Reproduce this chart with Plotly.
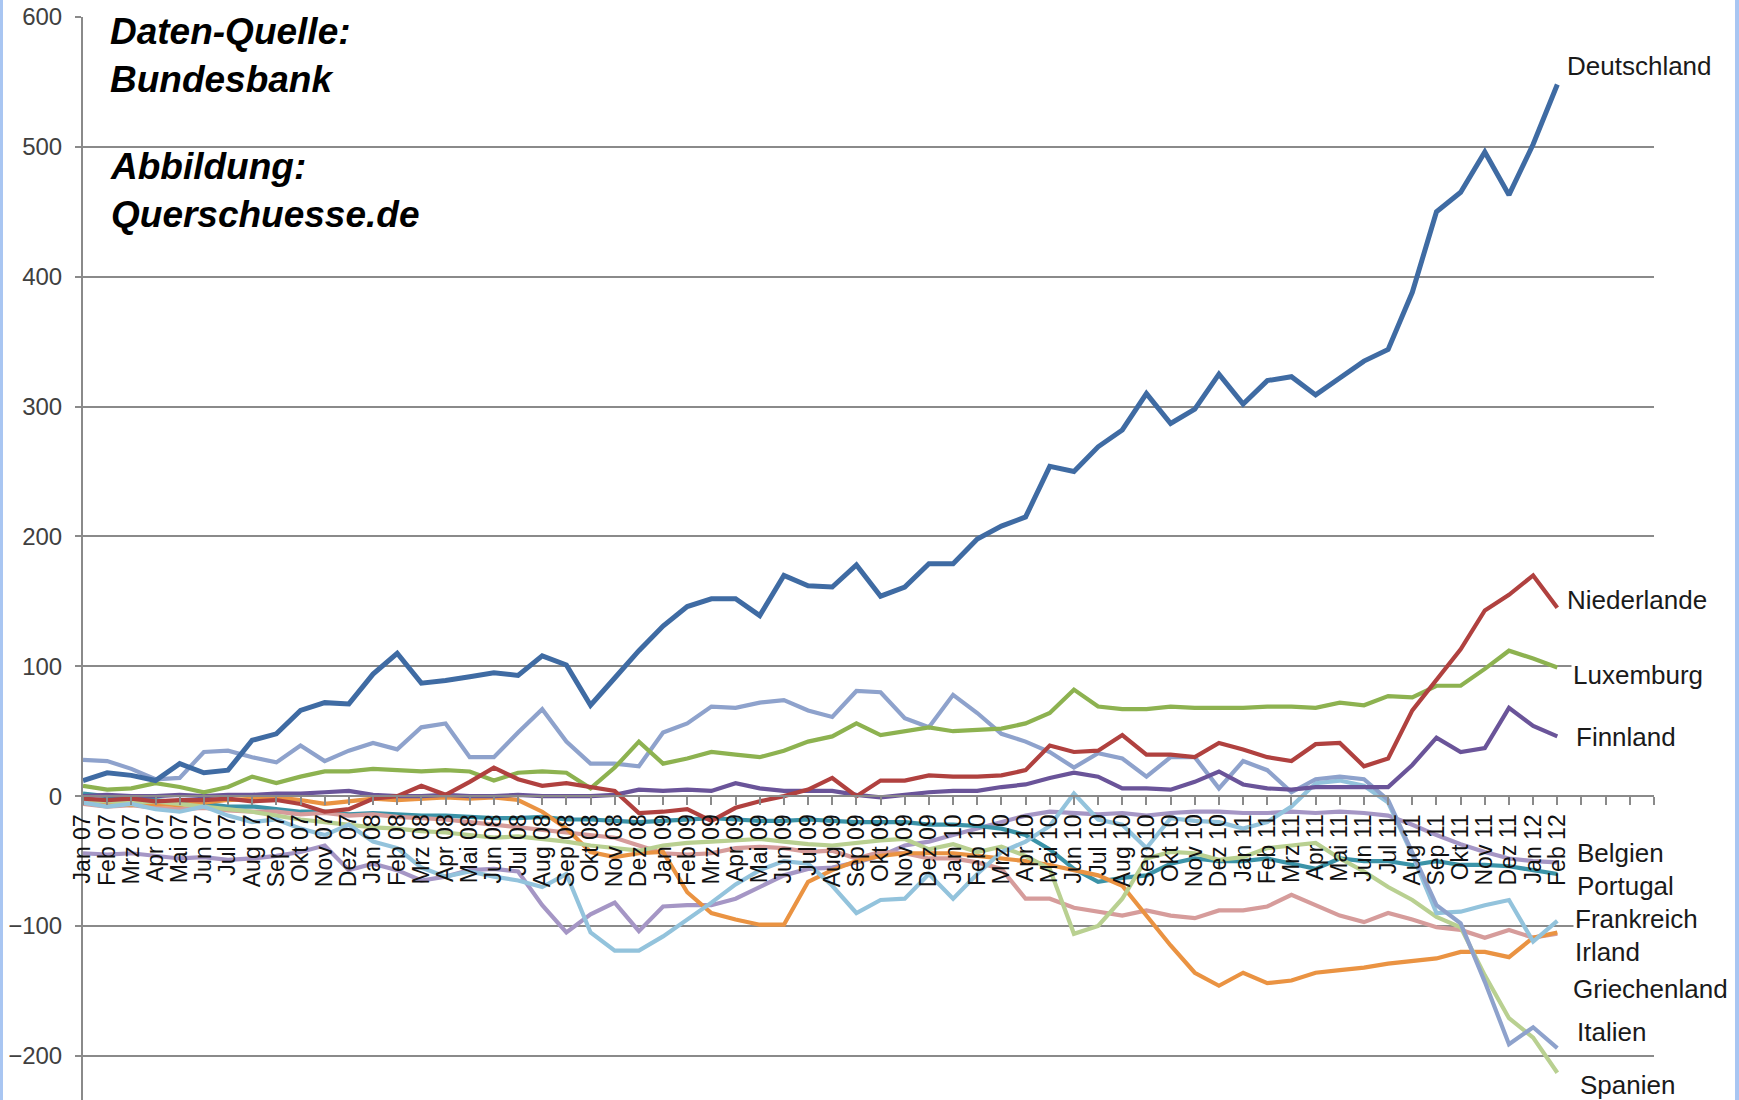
import plotly.graph_objects as go

# ---------------- data ----------------
month_names = ["Jan", "Feb", "Mrz", "Apr", "Mai", "Jun", "Jul", "Aug", "Sep", "Okt", "Nov", "Dez"]
years = ["07", "08", "09", "10", "11", "12"]
months = [f"{m} {y}" for y in years for m in month_names][:62]  # Jan 07 .. Feb 12
extra_slots = 4  # empty category slots after Feb 12 on the axis

deutschland = [12, 18, 16, 12, 25, 18, 20, 43, 48, 66, 72, 71,
               94, 110, 87, 89, 92, 95, 93, 108, 101, 70, 91, 112,
               131, 146, 152, 152, 139, 170, 162, 161, 178, 154, 161, 179,
               179, 198, 208, 215, 254, 250, 269, 282, 310, 287, 298, 325,
               302, 320, 323, 309, 322, 335, 344, 388, 450, 465, 496, 463,
               502, 548]
niederlande = [-2, -3, -2, -4, -3, -3, -2, -4, -3, -6, -12, -10,
               -2, 0, 8, 1, 11, 22, 13, 8, 10, 7, 4, -13,
               -12, -10, -19, -9, -4, 0, 5, 14, 0, 12, 12, 16,
               15, 15, 16, 20, 39, 34, 35, 47, 32, 32, 30, 41,
               36, 30, 27, 40, 41, 23, 29, 66, 90, 113, 143, 155,
               170, 145]
luxemburg = [8, 5, 6, 10, 7, 3, 7, 15, 10, 15, 19, 19,
             21, 20, 19, 20, 19, 12, 18, 19, 18, 6, 22, 42,
             25, 29, 34, 32, 30, 35, 42, 46, 56, 47, 50, 53,
             50, 51, 52, 56, 64, 82, 69, 67, 67, 69, 68, 68,
             68, 69, 69, 68, 72, 70, 77, 76, 85, 85, 98, 112,
             106, 99]
finnland = [0, 1, 0, 0, 1, 0, 1, 1, 2, 2, 3, 4,
            1, 0, 0, 1, 0, 0, 1, 0, 0, 0, 1, 5,
            4, 5, 4, 10, 6, 4, 4, 4, 1, -1, 1, 3,
            4, 4, 7, 9, 14, 18, 15, 6, 6, 5, 11, 19,
            9, 6, 5, 7, 7, 7, 7, 24, 45, 34, 37, 68,
            54, 46]
belgien = [-44, -45, -44, -46, -48, -47, -49, -48, -46, -43, -38, -57,
           -52, -57, -65, -62, -57, -56, -58, -84, -105, -91, -82, -104,
           -85, -84, -84, -79, -70, -61, -56, -55, -51, -46, -38, -35,
           -30, -25, -20, -15, -12, -13, -14, -13, -15, -13, -12, -12,
           -13, -13, -12, -13, -12, -13, -15, -22, -30, -37, -43, -48,
           -50, -51]
portugal = [2, 0, -2, -3, -5, -6, -8, -8, -10, -12, -12, -14,
            -13, -14, -15, -15, -16, -17, -17, -16, -18, -18, -19, -20,
            -19, -18, -17, -18, -19, -19, -18, -19, -20, -20, -20, -22,
            -22, -23, -25, -30, -41, -56, -66, -63, -61, -52, -48, -50,
            -50, -48, -52, -56, -48, -50, -50, -53, -50, -53, -53, -54,
            -57, -60]
frankreich = [-5, -8, -6, -10, -12, -8, -15, -20, -18, -25, -30, -22,
              -35, -40, -55, -62, -58, -62, -65, -70, -60, -105, -119, -119,
              -108, -95, -82, -68, -57, -50, -52, -69, -90, -80, -79, -60,
              -79, -60, -43, -35, -23, 2, -18, -22, -40, -17, -19, -20,
              -25, -20, -8, 10, 12, 8, -5, -45, -90, -89, -84, -80,
              -112, -96]
irland = [-5, -6, -7, -6, -7, -5, -3, -2, -1, -3, -6, -4,
          -2, -3, -2, -1, -2, -1, -3, -12, -25, -43, -47, -44,
          -43, -74, -90, -95, -99, -99, -66, -57, -50, -46, -44, -44,
          -44, -46, -48, -50, -53, -57, -61, -69, -92, -115, -136, -146,
          -136, -144, -142, -136, -134, -132, -129, -127, -125, -120, -120, -124,
          -109, -105]
griechenland = [-6, -8, -7, -9, -10, -9, -11, -12, -12, -14, -13, -15,
                -14, -16, -17, -18, -20, -22, -24, -26, -28, -30, -32, -38,
                -44, -45, -44, -40, -39, -40, -43, -42, -48, -43, -44, -48,
                -48, -51, -56, -79, -79, -86, -89, -92, -88, -92, -94, -88,
                -88, -85, -76, -84, -92, -97, -90, -95, -101, -103, -109, -103,
                -109, -106]
italien = [28, 27, 21, 13, 14, 34, 35, 30, 26, 39, 27, 35,
           41, 36, 53, 56, 30, 30, 49, 67, 42, 25, 25, 23,
           49, 56, 69, 68, 72, 74, 66, 61, 81, 80, 60, 53,
           78, 64, 48, 42, 34, 22, 33, 29, 15, 30, 30, 6,
           27, 20, 3, 13, 15, 13, -3, -44, -84, -98, -143, -191,
           -178, -194]
spanien = [-3, -4, -5, -4, -6, -8, -10, -12, -15, -18, -20, -22,
           -24, -25, -27, -28, -30, -32, -31, -33, -35, -38, -40, -42,
           -38, -36, -35, -34, -33, -35, -37, -38, -36, -34, -33, -41,
           -37, -43, -39, -46, -56, -106, -100, -79, -48, -43, -44, -49,
           -47, -40, -38, -36, -48, -58, -70, -80, -93, -101, -138, -171,
           -186, -213]

series = [
    ("Belgien", belgien),
    ("Portugal", portugal),
    ("Griechenland", griechenland),
    ("Irland", irland),
    ("Spanien", spanien),
    ("Frankreich", frankreich),
    ("Italien", italien),
    ("Finnland", finnland),
    ("Luxemburg", luxemburg),
    ("Niederlande", niederlande),
    ("Deutschland", deutschland),
]

# ---------------- styles ----------------
colors = {
    "Deutschland": "#3F6BA3",
    "Niederlande": "#B0413F",
    "Luxemburg": "#8DB250",
    "Finnland": "#6A5499",
    "Belgien": "#A596C5",
    "Portugal": "#3B93A8",
    "Frankreich": "#93C3DC",
    "Irland": "#EA9342",
    "Griechenland": "#D69C9B",
    "Italien": "#8EA2CC",
    "Spanien": "#B9D091",
}
widths = {"Deutschland": 5}
# label offsets (pixels) from the last point of each series
label_shift = {
    "Deutschland": (8, 19),
    "Niederlande": (8, 8),
    "Luxemburg": (14, -7),
    "Finnland": (17, -1),
    "Belgien": (18, 9),
    "Portugal": (18, -12),
    "Frankreich": (16, 2),
    "Irland": (16, -20),
    "Griechenland": (14, -55),
    "Italien": (18, 16),
    "Spanien": (21, -12),
}

ymin, ymax = -234, 600
grid_col = "#8a8a8a"

fig = go.Figure()
x_idx = list(range(len(months)))
for name, vals in series:
    fig.add_trace(go.Scatter(
        x=x_idx, y=vals, mode="lines", name=name,
        line=dict(color=colors[name], width=widths.get(name, 4.2)),
        hoverinfo="name+y",
    ))

annotations = []
for name, vals in series:
    dx, dy = label_shift[name]
    annotations.append(dict(
        x=len(vals) - 1, y=vals[-1], xref="x", yref="y",
        text=name, showarrow=False, xanchor="left", yanchor="middle",
        xshift=dx, yshift=dy, bgcolor="white", borderpad=1,
        font=dict(family="Liberation Sans, Arial, sans-serif", size=26, color="#1a1a1a"),
    ))

src_font = dict(family="Liberation Sans, Arial, sans-serif", size=37, color="#000000")
annotations.append(dict(
    x=0.0162, y=0.9640, xref="paper", yref="paper", xanchor="left", yanchor="middle",
    text="<b><i>Daten-Quelle:<br>Bundesbank</i></b>", showarrow=False, align="left",
    font=src_font,
))
annotations.append(dict(
    x=0.0162, y=0.8395, xref="paper", yref="paper", xanchor="left", yanchor="middle",
    text="<b><i>Abbildung:<br>Querschuesse.de</i></b>", showarrow=False, align="left",
    font=src_font,
))

tickvals = list(range(len(months) + extra_slots))
ticktext = months + [""] * extra_slots
zero_pos = (0 - ymin) / (ymax - ymin)

fig.update_layout(
    width=1739, height=1100,
    margin=dict(l=83, r=85, t=17, b=0),
    plot_bgcolor="white", paper_bgcolor="white",
    showlegend=False,
    annotations=annotations,
    xaxis=dict(
        range=[0, len(months) - 1 + extra_slots],
        tickmode="array", tickvals=tickvals, ticktext=ticktext,
        tickangle=-90,
        tickfont=dict(family="Liberation Sans, Arial, sans-serif", size=23, color="#111111"),
        anchor="free", position=zero_pos,
        showline=True, linecolor=grid_col, linewidth=2,
        ticks="outside", ticklen=8, tickwidth=1.5, tickcolor=grid_col,
        showgrid=False, zeroline=False, automargin=False,
    ),
    yaxis=dict(
        range=[ymin, ymax],
        tickmode="array", tickvals=[-200, -100, 0, 100, 200, 300, 400, 500, 600],
        tickfont=dict(family="Liberation Sans, Arial, sans-serif", size=24, color="#404040"),
        showgrid=True, gridcolor=grid_col, gridwidth=1.6,
        showline=True, linecolor=grid_col, linewidth=2,
        ticks="outside", ticklen=6, tickcolor=grid_col, tickwidth=1.5,
        ticklabelstandoff=8,
        zeroline=False, automargin=False,
    ),
    shapes=[
        dict(type="rect", xref="paper", xsizemode="pixel", xanchor=0, x0=-83, x1=-80,
             yref="paper", y0=-0.1, y1=1.1, fillcolor="#a9c6f2", line=dict(width=0), layer="above"),
        dict(type="rect", xref="paper", xsizemode="pixel", xanchor=1, x0=81, x1=85,
             yref="paper", y0=-0.1, y1=1.1, fillcolor="#a9c6f2", line=dict(width=0), layer="above"),
    ],
)

fig.write_html(
    "out.html",
    config={"displayModeBar": False},
    post_script="document.body.style.margin='0';document.body.style.overflow='hidden';",
)
